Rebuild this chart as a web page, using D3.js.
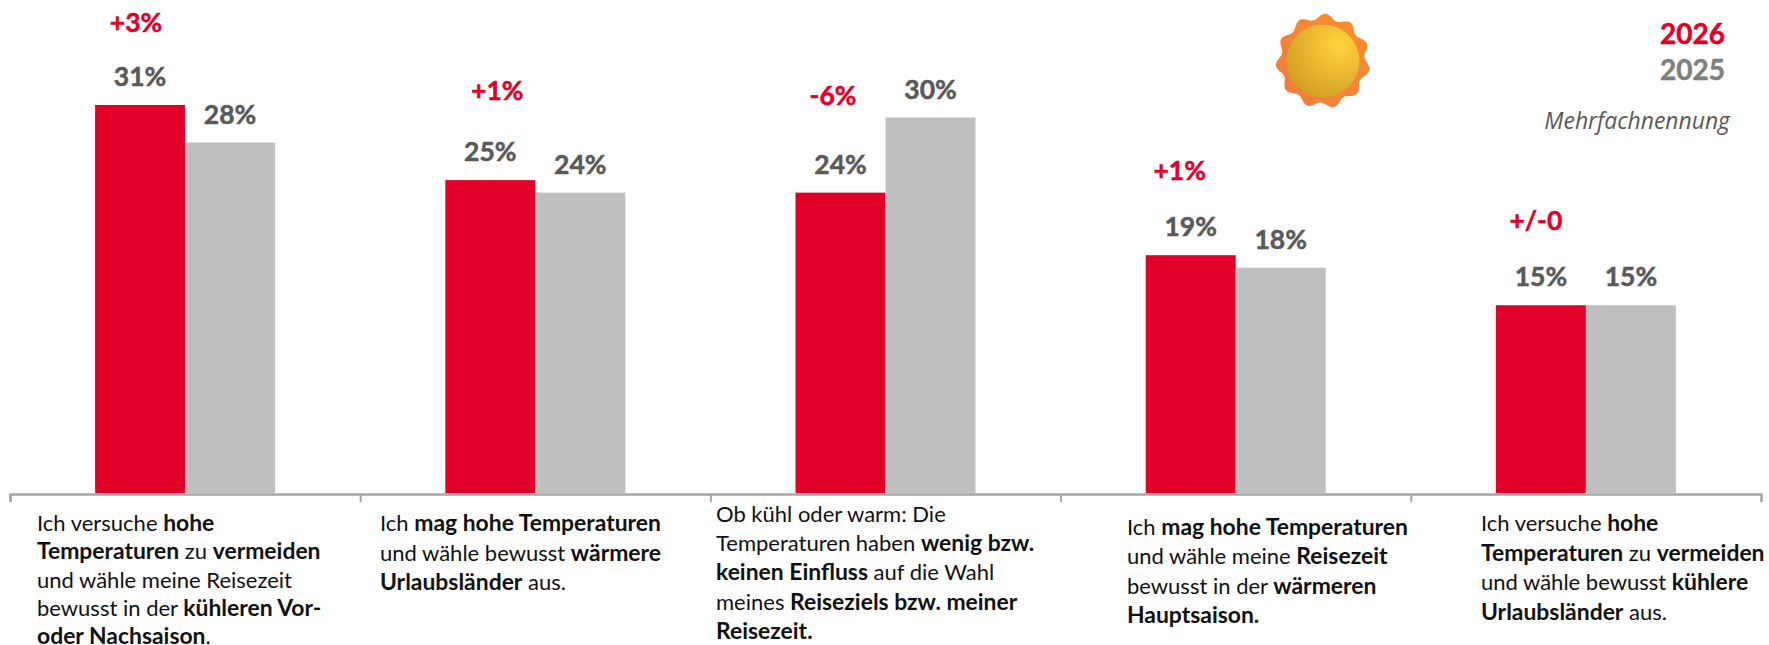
<!DOCTYPE html>
<html lang="de"><head><meta charset="utf-8">
<script src="https://cdn.jsdelivr.net/npm/d3@7"></script>
<style>html,body{margin:0;padding:0;background:#fff;overflow:hidden}svg{display:block}text{font-family:Lato,sans-serif}</style>
</head><body><div id="c"></div>
<script>
const years = ["2026","2025"];
const categories = ["A","B","C","D","E"];
const values2026 = [31,25,24,19,15];
const values2025 = [28,24,30,18,15];
const deltas = ["+3%","+1%","-6%","+1%","+/-0"];
// rich-text lines: [text, bold?] runs
const labelLines = [
 [[["Ich versuche ",0],["hohe",1]],[["Temperaturen",1],[" zu ",0],["vermeiden",1]],[["und wähle meine Reisezeit",0]],[["bewusst in der ",0],["kühleren Vor-",1]],[["oder Nachsaison",1],[".",0]]],
 [[["Ich ",0],["mag hohe Temperaturen",1]],[["und wähle bewusst ",0],["wärmere",1]],[["Urlaubsländer",1],[" aus.",0]]],
 [[["Ob kühl oder warm: Die",0]],[["Temperaturen haben ",0],["wenig bzw.",1]],[["keinen Einfluss",1],[" auf die Wahl",0]],[["meines ",0],["Reiseziels bzw. meiner",1]],[["Reisezeit.",1]]],
 [[["Ich ",0],["mag hohe Temperaturen",1]],[["und wähle meine ",0],["Reisezeit",1]],[["bewusst in der ",0],["wärmeren",1]],[["Hauptsaison.",1]]],
 [[["Ich versuche ",0],["hohe",1]],[["Temperaturen",1],[" zu ",0],["vermeiden",1]],[["und wähle bewusst ",0],["kühlere",1]],[["Urlaubsländer",1],[" aus.",0]]]
];
// layout only
const labelX = [37,380,716,1127,1481];
const labelY = [531,531,522,535,531];
const lineStep = [28.3,29.5,29.2,29.4,29.5];
const deltaDX = [-4,7,-7.5,-11,-5];
const deltaRise = [73,80,88,75,75];

const W=1769,H=645, RED="#E30028", GREY="#BFBFBF", LBL="#595959";
const svg=d3.select("#c").append("svg").attr("width",W).attr("height",H);
const defs=svg.append("defs");
const y=d3.scaleLinear().domain([0,31]).range([493,105]);
const x0=d3.scaleBand().domain(categories).range([10,1761]);
const x1=d3.scaleBand().domain(years).range([x0.bandwidth()/2-90,x0.bandwidth()/2+90]);
const rows=categories.map((c,i)=>({c,i,a:values2026[i],b:values2025[i]}));

rows.forEach(r=>{
  const g=svg.append("g").attr("transform",`translate(${x0(r.c)},0)`);
  [[years[0],r.a,RED],[years[1],r.b,GREY]].forEach(([yr,v,col])=>{
    g.append("rect").attr("x",x1(yr)).attr("width",x1.bandwidth()).attr("y",y(v)).attr("height",y(0)-y(v)).attr("fill",col);
    g.append("text").attr("x",x1(yr)+x1.bandwidth()/2).attr("y",y(v)-19).attr("text-anchor","middle")
      .attr("font-size",26.5).attr("font-weight",700).attr("fill",LBL).attr("stroke",LBL).attr("stroke-width",.5).text(v+"%");
  });
  g.append("text").attr("x",x0.bandwidth()/2-45+deltaDX[r.i]).attr("y",y(r.a)-deltaRise[r.i]).attr("text-anchor","middle")
    .attr("font-size",26.5).attr("font-weight",700).attr("fill",RED).attr("stroke",RED).attr("stroke-width",.5).text(deltas[r.i]);
});

const axisX=d3.scaleLinear().domain([0,5]).range([10,1761]);
const ax=svg.append("g").attr("transform","translate(0,494)")
  .call(d3.axisBottom(axisX).tickValues(d3.range(6)).tickSize(8).tickFormat(""));
ax.selectAll("path,line").attr("stroke","#A6A6A6").attr("stroke-width",2);
ax.select("path").attr("stroke-width",2.4);

labelLines.forEach((lines,i)=>{
  const t=svg.append("text").attr("fill","#111").attr("style","white-space:pre");
  lines.forEach((runs,j)=>{
    runs.forEach((run,k)=>{
      const s=t.append("tspan").attr("font-weight",run[1]?700:400).attr("font-size",run[1]?22.9:22).text(run[0]);
      if(k===0) s.attr("x",labelX[i]).attr("y",labelY[i]+j*lineStep[i]);
    });
  });
});

// legend
svg.append("text").attr("x",1725).attr("y",44).attr("text-anchor","end").attr("font-size",28).attr("font-weight",700).attr("fill",RED).attr("stroke",RED).attr("stroke-width",.5).text(years[0]);
svg.append("text").attr("x",1725).attr("y",80).attr("text-anchor","end").attr("font-size",28).attr("font-weight",700).attr("fill","#7F7F7F").attr("stroke","#7F7F7F").attr("stroke-width",.5).text(years[1]);
svg.append("text").attr("x",1730).attr("y",129).attr("text-anchor","end").attr("font-size",22.9).attr("font-style","italic").attr("fill",LBL)
  .style("font-family","'Open Sans',sans-serif").text("Mehrfachnennung");

// sun
const gO=defs.append("linearGradient").attr("id","so").attr("x1",0).attr("y1",1).attr("x2",1).attr("y2",0);
gO.append("stop").attr("offset",0).attr("stop-color","#EE7C42");
gO.append("stop").attr("offset",1).attr("stop-color","#FB8E28");
const gI=defs.append("radialGradient").attr("id","si").attr("cx",.72).attr("cy",.28).attr("r",.95).attr("fx",.72).attr("fy",.28);
gI.append("stop").attr("offset",0).attr("stop-color","#FFD43C");
gI.append("stop").attr("offset",1).attr("stop-color","#CB9520");
const pts=d3.range(132).map(i=>{const a=i/132*2*Math.PI;return [a,44.4+2.8*Math.cos(11*(a-0.05))];});
const sun=svg.append("g").attr("transform","translate(1323,61)");
sun.append("path").attr("d",d3.lineRadial().curve(d3.curveCardinalClosed)(pts)).attr("fill","url(#so)");
sun.append("circle").attr("r",36.5).attr("fill","url(#si)");
</script></body></html>
